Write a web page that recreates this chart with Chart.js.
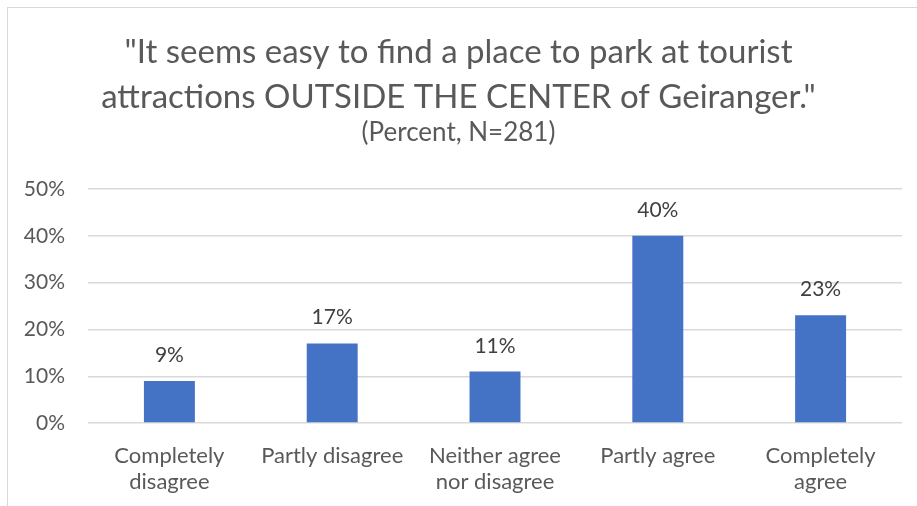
<!DOCTYPE html>
<html>
<head>
<meta charset="utf-8">
<script src="https://cdn.jsdelivr.net/npm/chart.js@4"></script>
<style>
  html, body { margin: 0; padding: 0; background: #ffffff; overflow: hidden; }
  body { width: 917px; height: 506px; position: relative; }
  #frame { position: absolute; left: 7px; top: 7px; width: 1000px; height: 600px;
           border: 1px solid #d9d9d9; box-sizing: border-box; }
  #wrap { position: absolute; left: 0; top: 0; width: 917px; height: 506px; }
</style>
</head>
<body>
<div id="frame"></div>
<div id="wrap"><canvas id="chart" width="917" height="506"></canvas></div>
<script>
// Survey answers and share of respondents (percent)
const categories = [
  ["Completely", "disagree"],
  "Partly disagree",
  ["Neither agree", "nor disagree"],
  "Partly agree",
  ["Completely", "agree"]
];
const shares = [9, 17, 11, 40, 23];
const yTicks = [0, 10, 20, 30, 40, 50];

const titleLines = [
  "\"It seems easy to find a place to park at tourist",
  "attractions OUTSIDE THE CENTER of Geiranger.\""
];
const subtitleText = "(Percent, N=281)";

const FONT = "Lato, 'Open Sans', sans-serif";

// Value labels above each bar
const valueLabels = {
  id: "valueLabels",
  afterDatasetsDraw(chart) {
    const ctx = chart.ctx;
    const meta = chart.getDatasetMeta(0);
    ctx.save();
    ctx.font = "21px " + FONT;
    ctx.fillStyle = "#404040";
    ctx.textAlign = "center";
    ctx.textBaseline = "alphabetic";
    meta.data.forEach((bar, i) => {
      ctx.fillText(shares[i] + "%", bar.x, bar.y - 19);
    });
    ctx.restore();
  }
};

new Chart(document.getElementById("chart"), {
  type: "bar",
  data: {
    labels: categories,
    datasets: [{
      data: shares,
      backgroundColor: "#4472c4",
      borderWidth: 0,
      barPercentage: 0.313,
      categoryPercentage: 1
    }]
  },
  options: {
    responsive: false,
    animation: false,
    layout: { padding: 0 },
    plugins: {
      legend: { display: false },
      tooltip: { enabled: false },
      title: {
        display: true,
        text: titleLines,
        color: "#595959",
        font: { family: FONT, size: 33, weight: "normal", lineHeight: 45 / 33 },
        padding: { top: 30, bottom: 0 }
      },
      subtitle: {
        display: true,
        text: subtitleText,
        color: "#595959",
        font: { family: FONT, size: 26, weight: "normal", lineHeight: 1 },
        padding: { top: 0, bottom: 43 }
      }
    },
    scales: {
      x: {
        grid: { display: false, drawTicks: false },
        border: { display: false },
        ticks: {
          color: "#595959",
          font: { family: FONT, size: 22, lineHeight: 1.18 },
          padding: 20,
          maxRotation: 0,
          autoSkip: false
        },
        afterFit(scale) { scale.height = 83; }
      },
      y: {
        min: 0,
        max: 50,
        afterBuildTicks(scale) { scale.ticks = yTicks.map(v => ({ value: v })); },
        grid: { color: "#d9d9d9", lineWidth: 1.4, drawTicks: false },
        border: { display: false },
        ticks: {
          color: "#595959",
          font: { family: FONT, size: 21 },
          padding: 23,
          callback: v => v + "%"
        },
        afterFit(scale) { scale.width = 88; }
      },
      // empty right-hand margin beside the plot area
      yRight: {
        position: "right",
        grid: { display: false, drawTicks: false },
        border: { display: false },
        ticks: { display: false },
        afterFit(scale) { scale.width = 15; }
      }
    }
  },
  plugins: [valueLabels]
});
</script>
</body>
</html>
